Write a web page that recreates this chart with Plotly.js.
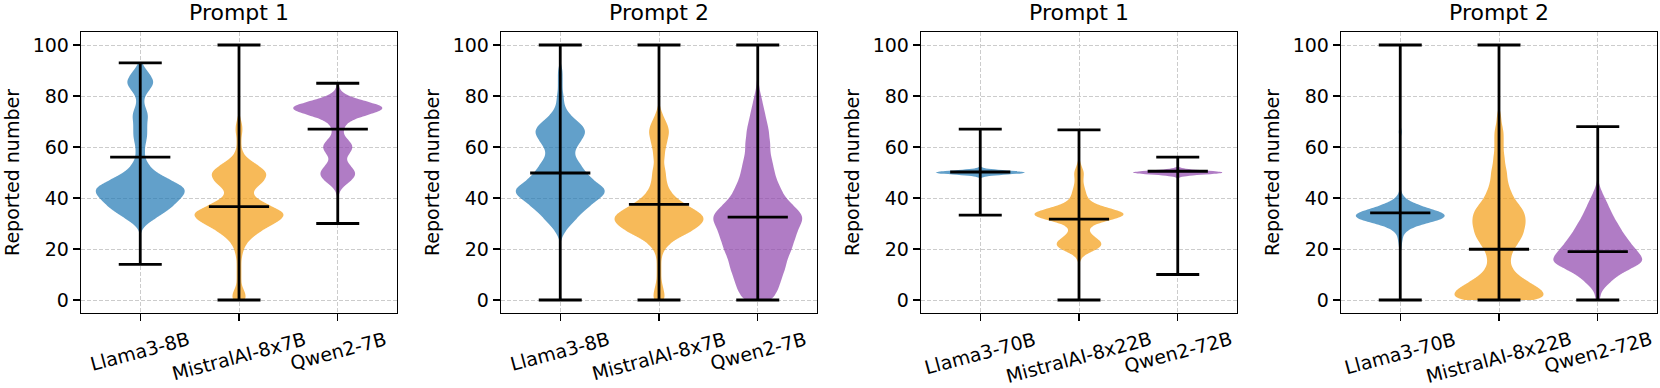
<!DOCTYPE html>
<html>
<head>
<meta charset="utf-8">
<script src="https://cdn.plot.ly/plotly-3.0.1.min.js"></script>
<style>
  html, body { margin: 0; padding: 0; background: #fff; }
  #plotly { width: 1660px; height: 388px; }
</style>
</head>
<body>
<div id="plotly"></div>
<script>
// Models on the x axis of each panel
const smallModels = ["Llama3-8B", "MistralAI-8x7B", "Qwen2-7B"];
const largeModels = ["Llama3-70B", "MistralAI-8x22B", "Qwen2-72B"];
const panelTitles = ["Prompt 1", "Prompt 2", "Prompt 1", "Prompt 2"];

// Reported numbers, as value / how many times it was reported
// Panel 1: small models, prompt 1
const p1Llama8bValues = [14, 28, 30, 32, 34, 36, 38, 40, 42, 44, 46, 48, 50, 52, 54, 56, 58, 60, 62, 64, 66, 68, 70, 72, 74, 76, 78, 80, 82, 84, 86, 88, 90, 92, 93];
const p1Llama8bCounts = [1, 2, 6, 13, 20, 26, 31, 35, 39, 39, 31, 22, 14, 9, 6, 4, 4, 4, 5, 6, 6, 6, 6, 7, 6, 4, 3, 4, 7, 11, 12, 9, 6, 2, 1];
const p1Mistral8x7bValues = [0, 2, 4, 6, 8, 10, 12, 14, 16, 18, 20, 22, 24, 26, 28, 30, 32, 34, 36, 38, 40, 42, 44, 46, 48, 50, 52, 54, 56, 58, 60, 62, 64, 66, 68, 70, 72, 100];
const p1Mistral8x7bCounts = [6, 6, 4, 2, 2, 2, 2, 2, 2, 3, 4, 6, 10, 15, 22, 30, 37, 40, 31, 22, 14, 11, 14, 20, 23, 24, 19, 12, 6, 3, 2, 2, 2, 3, 3, 2, 1, 1];
const p1Qwen7bValues = [30, 42, 44, 46, 48, 50, 52, 54, 56, 58, 60, 62, 64, 66, 68, 70, 72, 74, 76, 78, 80, 82, 85];
const p1Qwen7bCounts = [1, 1, 3, 8, 13, 14, 11, 7, 6, 10, 12, 10, 5, 4, 5, 8, 17, 34, 38, 20, 7, 2, 1];

// Panel 2: small models, prompt 2
const p2Llama8bValues = [0, 24, 26, 28, 30, 32, 34, 36, 38, 40, 42, 44, 46, 48, 50, 52, 54, 56, 58, 60, 62, 64, 66, 68, 70, 72, 74, 76, 78, 80, 82, 84, 86, 88, 90, 92, 100];
const p2Llama8bCounts = [2, 1, 3, 6, 10, 14, 18, 23, 28, 34, 39, 38, 31, 26, 22, 19, 16, 13, 12, 14, 17, 20, 22, 20, 15, 10, 6, 4, 3, 3, 2, 2, 2, 2, 2, 1, 1];
const p2Mistral8x7bValues = [0, 2, 4, 6, 8, 10, 12, 14, 16, 18, 20, 22, 24, 26, 28, 30, 32, 34, 36, 38, 40, 42, 44, 46, 48, 50, 52, 54, 56, 58, 60, 62, 64, 66, 68, 70, 72, 74, 76, 100];
const p2Mistral8x7bCounts = [5, 5, 4, 3, 2, 2, 2, 2, 2, 3, 5, 9, 15, 24, 32, 37, 40, 36, 29, 21, 15, 11, 8, 7, 6, 6, 5, 4, 5, 5, 6, 7, 8, 9, 8, 6, 4, 2, 1, 1];
const p2Qwen7bValues = [0, 2, 4, 6, 8, 10, 12, 14, 16, 18, 20, 22, 24, 26, 28, 30, 32, 34, 36, 38, 40, 42, 44, 46, 48, 50, 52, 54, 56, 58, 60, 62, 64, 66, 68, 70, 72, 74, 76, 78, 80, 82, 84, 86, 100];
const p2Qwen7bCounts = [13, 15, 18, 19, 21, 22, 24, 25, 26, 28, 30, 31, 33, 34, 36, 38, 40, 38, 34, 29, 25, 22, 20, 18, 16, 15, 14, 13, 12, 11, 11, 11, 10, 10, 9, 8, 7, 6, 5, 4, 3, 2, 1, 1, 1];

// Panel 3: large models, prompt 1
const p1Llama70bValues = [33.3, 50, 67];
const p1Llama70bCounts = [1, 60, 1];
const p1Mistral8x22bValues = [0, 16, 18, 20, 22, 24, 26, 28, 30, 32, 34, 36, 38, 40, 42, 44, 46, 48, 50, 52, 54, 66.7];
const p1Mistral8x22bCounts = [1, 1, 4, 14, 18, 13, 8, 6, 11, 28, 38, 20, 9, 6, 5, 4, 3, 3, 4, 2, 1, 1];
const p1Qwen72bValues = [10, 50, 56];
const p1Qwen72bCounts = [1, 60, 1];

// Panel 4: large models, prompt 2
const p2Llama70bValues = [0, 20, 22, 24, 26, 28, 30, 32, 34, 36, 38, 40, 42, 66, 100];
const p2Llama70bCounts = [1, 1, 1, 2, 2, 7, 17, 36, 34, 21, 9, 3, 1, 2, 1];
const p2Mistral8x22bValues = [0, 2, 4, 6, 8, 10, 12, 14, 16, 18, 20, 22, 24, 26, 28, 30, 32, 34, 36, 38, 40, 42, 44, 46, 48, 50, 52, 54, 56, 58, 60, 62, 64, 66, 68, 70, 72, 74, 100];
const p2Mistral8x22bCounts = [38, 40, 37, 30, 22, 16, 12, 10, 10, 11, 13, 16, 19, 21, 22, 23, 23, 22, 20, 16, 13, 11, 9, 8, 7, 7, 6, 5, 5, 4, 4, 4, 4, 4, 3, 2, 2, 1, 1];
const p2Qwen72bValues = [0, 2, 4, 6, 8, 10, 12, 14, 16, 18, 20, 22, 24, 26, 28, 30, 32, 34, 36, 38, 40, 42, 44, 46, 68];
const p2Qwen72bCounts = [2, 2, 4, 8, 13, 18, 26, 36, 39, 35, 32, 28, 25, 22, 19, 17, 14, 12, 10, 8, 6, 4, 2, 1, 1];

// Medians (the middle bar of each violin)
const p1SmallMedians = [56, 36.6, 67];
const p2SmallMedians = [49.8, 37.5, 32.5];
const p1LargeMedians = [50.2, 31.7, 50.5];
const p2LargeMedians = [34.2, 19.9, 19];

const ModelColors = ["rgba(31,119,180,0.7)", "rgba(243,156,18,0.7)", "rgba(142,68,173,0.7)"];
const FontFamily = "DejaVu Sans, Liberation Sans, sans-serif";
const GridColor = "#cccccc";

const panels = [
  { models: smallModels, medians: p1SmallMedians, bandwidths: [1.5, 1.5, 1.5],
    sets: [[p1Llama8bValues, p1Llama8bCounts], [p1Mistral8x7bValues, p1Mistral8x7bCounts], [p1Qwen7bValues, p1Qwen7bCounts]] },
  { models: smallModels, medians: p2SmallMedians, bandwidths: [1.5, 1.5, 1.5],
    sets: [[p2Llama8bValues, p2Llama8bCounts], [p2Mistral8x7bValues, p2Mistral8x7bCounts], [p2Qwen7bValues, p2Qwen7bCounts]] },
  { models: largeModels, medians: p1LargeMedians, bandwidths: [0.8, 1.5, 0.8],
    sets: [[p1Llama70bValues, p1Llama70bCounts], [p1Mistral8x22bValues, p1Mistral8x22bCounts], [p1Qwen72bValues, p1Qwen72bCounts]] },
  { models: largeModels, medians: p2LargeMedians, bandwidths: [1.5, 1.5, 1.5],
    sets: [[p2Llama70bValues, p2Llama70bCounts], [p2Mistral8x22bValues, p2Mistral8x22bCounts], [p2Qwen72bValues, p2Qwen72bCounts]] },
];

function expand(values, counts) {
  return values.flatMap((v, i) => Array(counts[i]).fill(v));
}

const W = 1660;
const domains = [[81, 397], [501, 817], [921, 1237], [1341, 1657]].map(([a, b]) => [a / W, b / W]);

const data = [];
const layout = {
  width: 1660,
  height: 388,
  margin: { l: 0, r: 0, t: 32, b: 75 },
  paper_bgcolor: "#fff",
  plot_bgcolor: "#fff",
  showlegend: false,
  violinmode: "overlay",
  font: { family: FontFamily, size: 19, color: "#000" },
  annotations: [],
};

panels.forEach((panel, p) => {
  const sfx = p === 0 ? "" : String(p + 1);
  const xa = "x" + sfx;
  const ya = "y" + sfx;
  const mins = [];
  const maxs = [];

  panel.sets.forEach(([values, counts], i) => {
    const samples = expand(values, counts);
    mins.push(Math.min(...samples));
    maxs.push(Math.max(...samples));
    data.push({
      type: "violin",
      xaxis: xa,
      yaxis: ya,
      x: samples.map(() => panel.models[i]),
      y: samples,
      fillcolor: ModelColors[i],
      line: { width: 0, color: ModelColors[i] },
      points: false,
      box: { visible: false },
      meanline: { visible: false },
      spanmode: "hard",
      bandwidth: panel.bandwidths[i],
      scalemode: "width",
      width: 0.9,
      hoverinfo: "skip",
    });
  });

  // min / max caps and median bar
  data.push({
    type: "scatter",
    mode: "markers",
    xaxis: xa,
    yaxis: ya,
    x: panel.models,
    y: panel.medians,
    marker: { symbol: "line-ew-open", size: 43, color: "#000", line: { width: 2.8, color: "#000" } },
    error_y: {
      type: "data",
      symmetric: false,
      array: panel.medians.map((m, i) => maxs[i] - m),
      arrayminus: panel.medians.map((m, i) => m - mins[i]),
      color: "#000",
      thickness: 2.8,
      width: 21.5,
    },
    hoverinfo: "skip",
  });

  layout["xaxis" + sfx] = {
    domain: domains[p],
    anchor: ya,
    type: "category",
    categoryorder: "array",
    categoryarray: panel.models,
    range: [-0.6, 2.6],
    showticklabels: false,
    ticks: "outside",
    ticklen: 7,
    tickwidth: 1.3,
    tickcolor: "#000",
    showline: true,
    mirror: true,
    linecolor: "#000",
    linewidth: 1.3,
    showgrid: true,
    gridcolor: GridColor,
    griddash: "4px,2px",
    gridwidth: 1,
    zeroline: false,
    automargin: false,
  };
  layout["yaxis" + sfx] = {
    domain: [0, 1],
    anchor: xa,
    range: [-5.1, 105.1],
    tick0: 0,
    dtick: 20,
    ticks: "outside",
    ticklen: 7,
    tickwidth: 1.3,
    tickcolor: "#000",
    tickfont: { family: FontFamily, size: 19, color: "#000" },
    showline: true,
    mirror: true,
    linecolor: "#000",
    linewidth: 1.3,
    showgrid: true,
    gridcolor: GridColor,
    griddash: "4px,2px",
    gridwidth: 1,
    zeroline: false,
    automargin: false,
    title: { text: "Reported number", font: { family: FontFamily, size: 19, color: "#000" }, standoff: 8 },
  };

  layout.annotations.push({
    text: panelTitles[p],
    xref: xa + " domain",
    yref: ya + " domain",
    x: 0.5,
    y: 1,
    xanchor: "center",
    yanchor: "bottom",
    yshift: 5,
    showarrow: false,
    font: { family: FontFamily, size: 22, color: "#000" },
  });

  // rotated model names under each tick
  panel.models.forEach((name) => {
    layout.annotations.push({
      text: name,
      xref: xa,
      yref: ya + " domain",
      x: name,
      y: 0,
      xanchor: "center",
      yanchor: "top",
      yshift: -12,
      textangle: -15,
      showarrow: false,
      font: { family: FontFamily, size: 19, color: "#000" },
    });
  });
});

Plotly.newPlot("plotly", data, layout, { staticPlot: true, displayModeBar: false });
</script>
</body>
</html>
